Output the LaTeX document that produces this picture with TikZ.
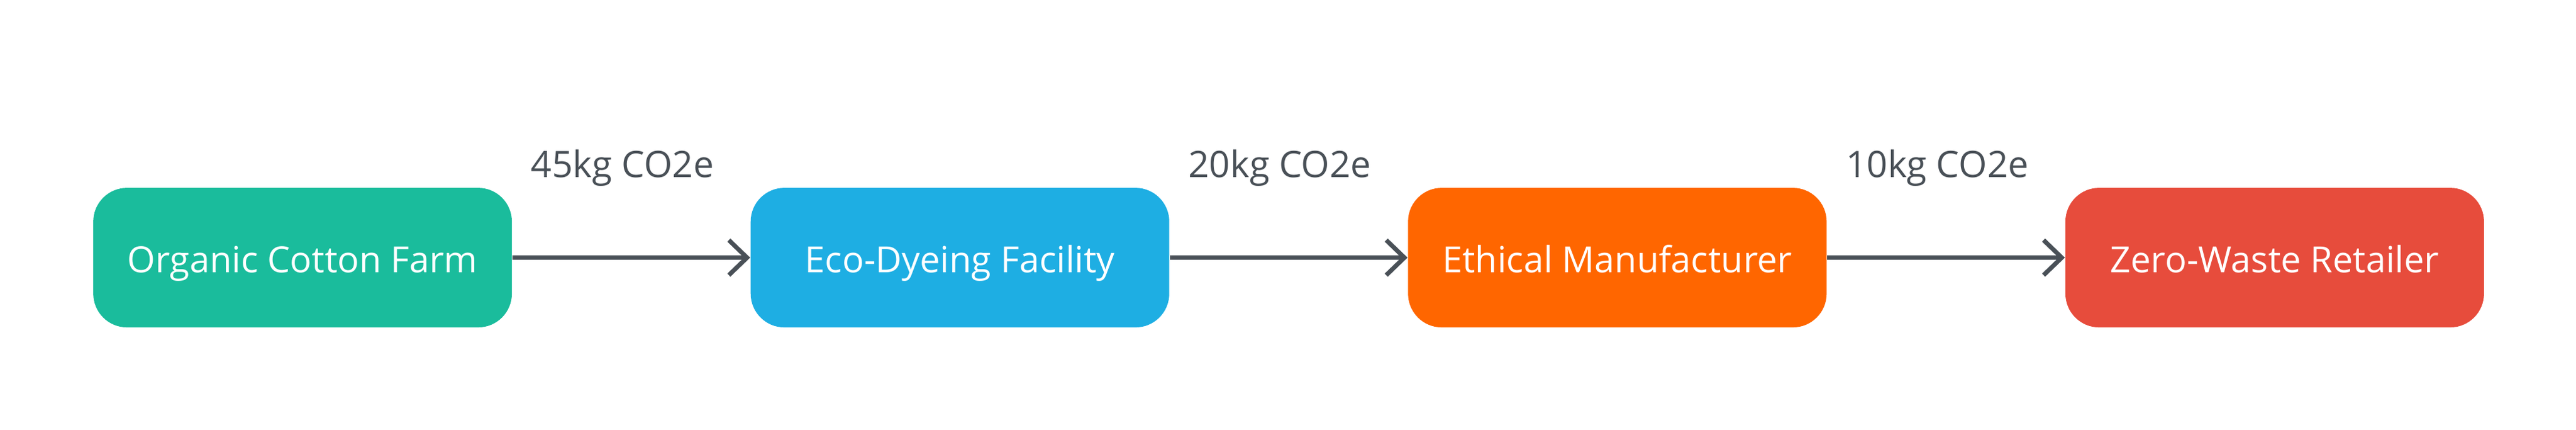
\documentclass[tikz,border=0pt]{standalone}
\usepackage{fontspec}
\setmainfont{Open Sans}
\usepackage{tikz}
\usetikzlibrary{arrows.meta,positioning}
\definecolor{farmgreen}{HTML}{1ABC9C}
\definecolor{dyeblue}{HTML}{1EAEE3}
\definecolor{makerorange}{HTML}{FF6600}
\definecolor{shopred}{HTML}{E74C3C}
\definecolor{flowgray}{HTML}{495057}
\tikzstyle{stage}=[rectangle, rounded corners=13.5pt, minimum width=167.25pt, minimum height=55.75pt, inner sep=0pt, text height=12.1pt, text depth=0pt, text=white, font=\fontsize{14.4}{17}\selectfont]
\tikzstyle{flow}=[draw=flowgray, line width=1.75pt, -{Straight Barb[length=7.25pt,width=14pt]}]
\tikzstyle{lab}=[font=\fontsize{14.6}{17}\selectfont, text=flowgray, anchor=base, yshift=32pt, xshift=-3.5pt]

\begin{document}
\begin{tikzpicture}[node distance=95pt]
        \useasboundingbox (0,0) rectangle (1029.25pt,171.5pt);
        %
        \node at (120.9pt,68.6pt) [stage, fill=farmgreen] (farm) {Organic Cotton Farm};
        \node [stage, fill=dyeblue, right=of farm] (dye) {Eco-Dyeing Facility};
        \node [stage, fill=makerorange, right=of dye] (maker) {Ethical Manufacturer};
        \node [stage, fill=shopred, right=of maker] (shop) {Zero-Waste Retailer};
        %
        \draw [flow] (farm) -- node[lab] {45kg CO2e} (dye);
        \draw [flow] (dye) -- node[lab] {20kg CO2e} (maker);
        \draw [flow] (maker) -- node[lab] {10kg CO2e} (shop);
      %
      \end{tikzpicture}
\end{document}
